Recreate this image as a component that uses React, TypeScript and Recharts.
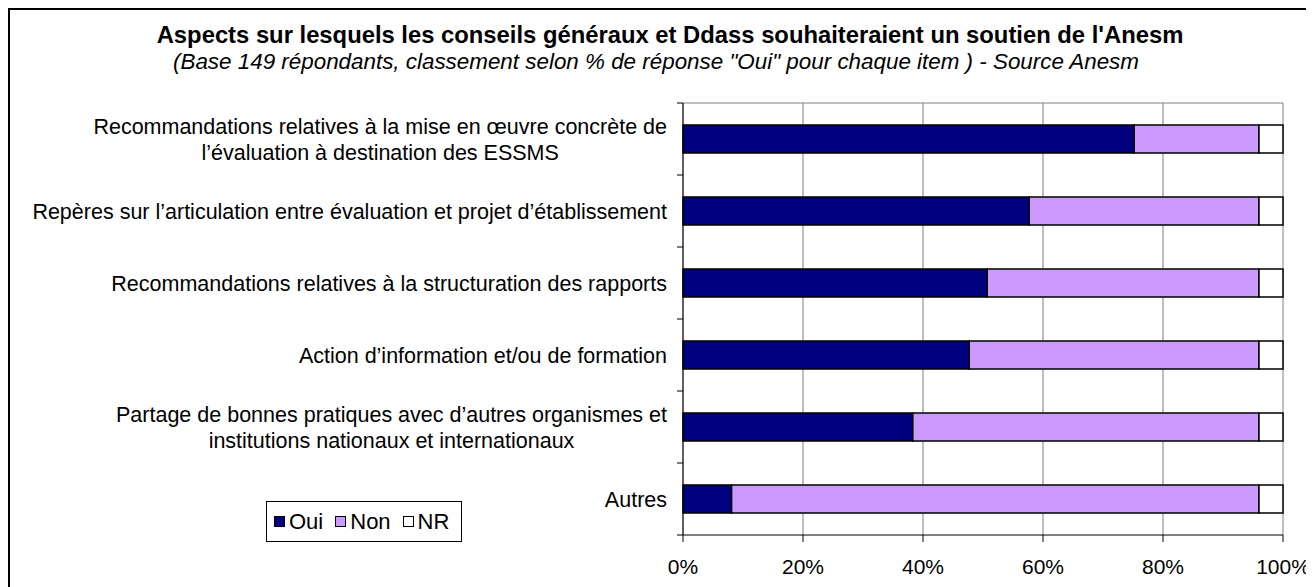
import { BarChart, Bar, XAxis, YAxis, CartesianGrid } from 'recharts';

// Catégories (les retours à la ligne suivent ceux de l'original)
const categories = [
  'Recommandations relatives à la mise en œuvre concrète de\nl’évaluation à destination des ESSMS',
  'Repères sur l’articulation entre évaluation et projet d’établissement',
  'Recommandations relatives à la structuration des rapports',
  'Action d’information et/ou de formation',
  'Partage de bonnes pratiques avec d’autres organismes et\ninstitutions nationaux et internationaux',
  'Autres',
];

// % de réponses
const oui = [75.2, 57.7, 50.7, 47.7, 38.3, 8.1];
const non = [20.8, 38.3, 45.3, 48.3, 57.7, 87.9];
const nr = [4.0, 4.0, 4.0, 4.0, 4.0, 4.0];

const seriesNames = ['Oui', 'Non', 'NR'];
const seriesColors = ['#000080', '#CC99FF', '#FFFFFF'];
const xTicks = [0, 20, 40, 60, 80, 100];

const data = categories.map((name, i) => ({
  name,
  Oui: oui[i],
  Non: non[i],
  NR: nr[i],
}));

const FONT = "'Liberation Sans', Arial, sans-serif";
const LABEL_FS = 21.5;
const W = 1304;
const H = 590;
const MT = 93;
const MB = 35;
const XH = 30;
const plotH = H - MT - MB - XH;

let ctx: CanvasRenderingContext2D | null = null;
const measure = (s: string) => {
  if (!ctx) {
    ctx = document.createElement('canvas').getContext('2d');
  }
  if (!ctx) return s.length * 10;
  ctx.font = `${LABEL_FS}px ${FONT}`;
  return ctx.measureText(s).width;
};

const CatTick = (props: any) => {
  const { x, y, payload, index } = props;
  const half = payload && payload.offset ? payload.offset : plotH / categories.length / 2;
  const lines = String(payload.value).split('\n');
  const axisX = x + 16;
  const lh = 26;
  let labels;
  if (lines.length === 1) {
    labels = (
      <text x={x} y={y} dy="0.35em" textAnchor="end" fontSize={LABEL_FS} fontFamily={FONT} fill="#000">
        {lines[0]}
      </text>
    );
  } else {
    const maxW = Math.max(...lines.map(measure));
    const cx = x - maxW / 2;
    labels = (
      <text textAnchor="middle" fontSize={LABEL_FS} fontFamily={FONT} fill="#000">
        {lines.map((l, i) => (
          <tspan key={i} x={cx} y={y + (i - (lines.length - 1) / 2) * lh} dy="0.35em">
            {l}
          </tspan>
        ))}
      </text>
    );
  }
  return (
    <g>
      <line x1={axisX - 6} x2={axisX} y1={y - half} y2={y - half} stroke="#000" />
      {index === categories.length - 1 && (
        <line x1={axisX - 6} x2={axisX} y1={y + half} y2={y + half} stroke="#000" />
      )}
      {labels}
    </g>
  );
};

const Legendbox = () => (
  <div
    style={{
      position: 'absolute',
      left: 256,
      top: 491,
      width: 196,
      height: 41,
      paddingLeft: 7,
      border: '1px solid #000',
      background: '#fff',
      display: 'flex',
      alignItems: 'center',
      fontFamily: FONT,
      fontSize: 22,
      boxSizing: 'border-box',
      whiteSpace: 'nowrap',
    }}
  >
    {seriesNames.map((n, i) => (
      <span key={n} style={{ display: 'flex', alignItems: 'center', marginRight: i < 2 ? 12 : 0 }}>
        <span
          style={{
            display: 'inline-block',
            width: 9,
            height: 9,
            background: seriesColors[i],
            border: '1px solid #000',
            marginRight: 4,
          }}
        />
        {n}
      </span>
    ))}
  </div>
);

export default function App() {
  return (
    <div
      style={{
        position: 'relative',
        width: 1300,
        height: 600,
        border: '2px solid #000',
        boxSizing: 'border-box',
        background: '#fff',
      }}
    >
      <div
        style={{
          position: 'absolute',
          left: 660,
          top: 11,
          transform: 'translateX(-50%)',
          whiteSpace: 'nowrap',
          fontFamily: FONT,
          fontWeight: 'bold',
          fontSize: 23.8,
          lineHeight: '28px',
        }}
      >
        Aspects sur lesquels les conseils généraux et Ddass souhaiteraient un soutien de l'Anesm
      </div>
      <div
        style={{
          position: 'absolute',
          left: 646,
          top: 39,
          transform: 'translateX(-50%)',
          whiteSpace: 'nowrap',
          fontFamily: FONT,
          fontStyle: 'italic',
          fontSize: 22.4,
          lineHeight: '26px',
        }}
      >
        (Base 149 répondants, classement selon % de réponse "Oui" pour chaque item ) - Source Anesm
      </div>
      <div style={{ position: 'absolute', left: 0, top: 0 }}>
        <BarChart
          width={W}
          height={H}
          data={data}
          layout="vertical"
          margin={{ top: MT, right: 31, bottom: MB, left: 0 }}
          barCategoryGap="30.5%"
          style={{ overflow: 'visible' }}
        >
          <CartesianGrid vertical horizontal={false} stroke="#808080" />
          <CartesianGrid vertical={false} horizontal horizontalPoints={[MT]} stroke="#808080" />
          <XAxis
            type="number"
            domain={[0, 100]}
            ticks={xTicks}
            tickFormatter={(v) => `${v}%`}
            tick={{ fontSize: 21, fill: '#000', fontFamily: FONT }}
            tickLine={{ stroke: '#000' }}
            axisLine={{ stroke: '#000' }}
            tickSize={7}
            tickMargin={17}
            height={XH}
            interval={0}
          />
          <YAxis
            type="category"
            dataKey="name"
            width={673}
            tick={<CatTick />}
            tickLine={false}
            tickSize={0}
            tickMargin={16}
            axisLine={{ stroke: '#000' }}
            interval={0}
          />
          {seriesNames.map((n, i) => (
            <Bar
              key={n}
              dataKey={n}
              stackId="a"
              fill={seriesColors[i]}
              stroke="#000"
              strokeWidth={1.5}
              isAnimationActive={false}
            />
          ))}
        </BarChart>
      </div>
      <Legendbox />
    </div>
  );
}
